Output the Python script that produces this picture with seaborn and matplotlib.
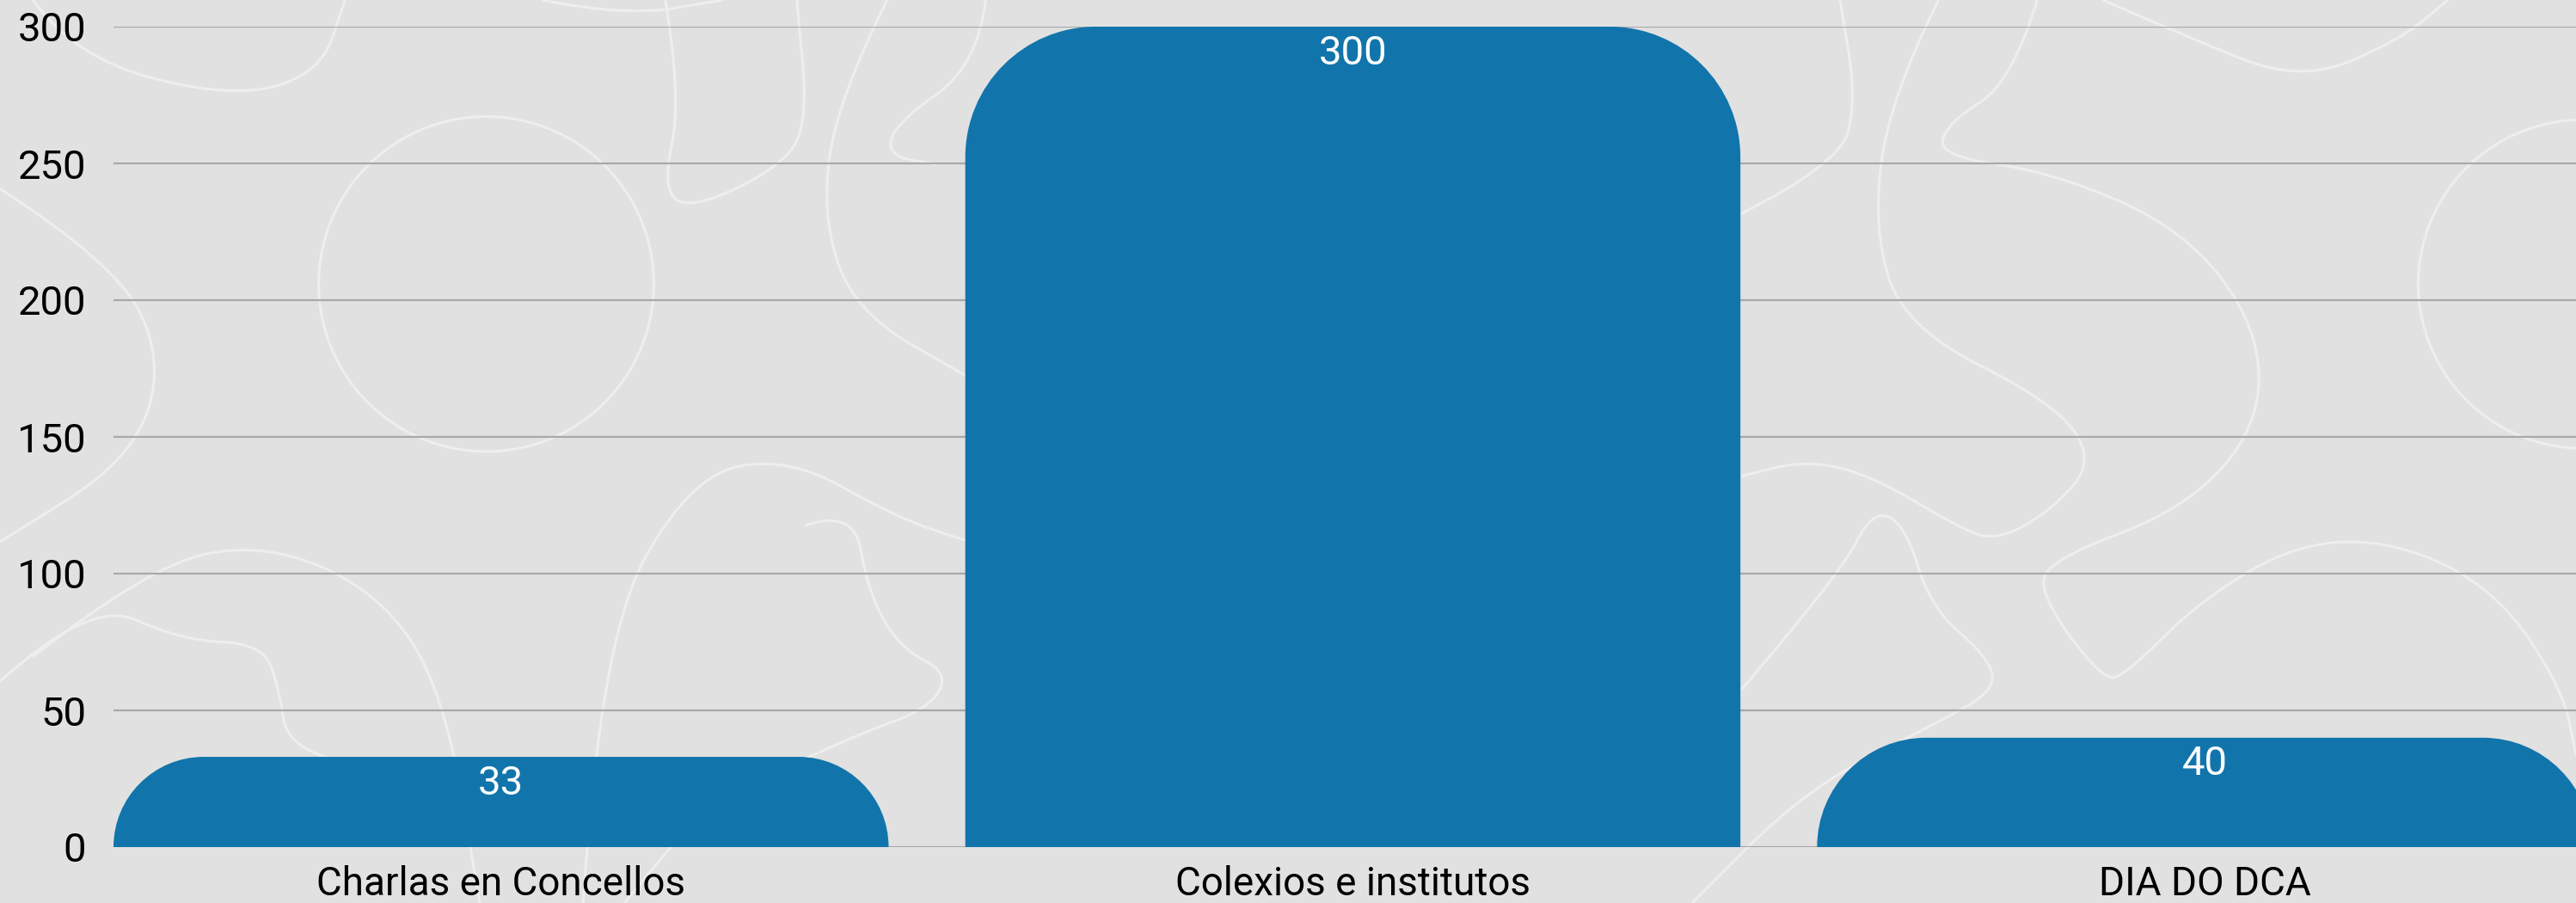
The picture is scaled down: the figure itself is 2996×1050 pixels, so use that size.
import numpy as np
import pandas as pd
import matplotlib
matplotlib.use("Agg")
import matplotlib.pyplot as plt
from matplotlib.path import Path
from matplotlib.patches import PathPatch, Circle
import seaborn as sns

categories = ["Charlas en Concellos", "Colexios e institutos", "DIA DO DCA"]
values = [33, 300, 40]
y_ticks = [0, 50, 100, 150, 200, 250, 300]

BAR_COLOR = "#1175ab"
BG = "#e1e1e1"
DECO = "#eeeeee"

sns.set_theme(style="white")
plt.rcParams["font.family"] = ["Roboto", "DejaVu Sans"]

W, H, DPI = 29.96, 10.5, 100
fig = plt.figure(figsize=(W, H), dpi=DPI, facecolor=BG)

# ---- faint decorative background (not data) ----
bg = fig.add_axes([0, 0, 1, 1], zorder=0)
bg.set_xlim(0, 1568); bg.set_ylim(550, 0); bg.axis("off")

def smooth(pts):
    pts = np.asarray(pts, float)
    verts = [pts[0]]; codes = [Path.MOVETO]
    for i in range(1, len(pts) - 1):
        mid = (pts[i] + pts[i + 1]) / 2
        verts += [pts[i], mid]; codes += [Path.CURVE3, Path.CURVE3]
    verts.append(pts[-1]); codes.append(Path.LINETO)
    return Path(verts, codes)

deco_curves = [
    [(20, 0), (45, 35), (140, 60), (195, 45), (210, 0)],
    [(0, 115), (70, 160), (100, 220), (80, 280), (0, 330)],
    [(20, 400), (90, 345), (160, 330), (230, 360), (270, 420), (292, 550)],
    [(0, 415), (55, 365), (110, 390), (160, 392), (170, 420), (175, 455), (230, 470), (275, 480)],
    [(355, 550), (365, 390), (420, 290), (480, 278), (545, 315), (590, 330)],
    [(405, 0), (415, 60), (403, 115), (420, 128), (475, 102), (492, 75), (485, 0)],
    [(490, 320), (520, 310), (528, 360), (548, 395), (578, 410), (565, 432), (520, 448), (430, 490), (380, 550)],
    [(600, 0), (595, 40), (545, 75), (540, 95), (570, 100)],
    [(540, 0), (510, 60), (500, 130), (520, 190), (590, 230)],
    [(1060, 130), (1120, 100), (1130, 60), (1120, 0)],
    [(1180, 0), (1150, 60), (1140, 140), (1160, 200), (1250, 245), (1275, 280), (1250, 310), (1215, 330),
     (1190, 320), (1140, 290), (1100, 280), (1060, 290)],
    [(1240, 0), (1225, 50), (1185, 75), (1180, 95), (1250, 105), (1330, 140), (1375, 200), (1375, 260),
     (1330, 310), (1250, 340), (1240, 360), (1280, 415), (1295, 410), (1340, 365), (1400, 330),
     (1460, 330), (1520, 360), (1560, 420), (1568, 460)],
    [(1280, 0), (1330, 22), (1400, 50), (1460, 25), (1490, 0)],
    [(1060, 420), (1120, 350), (1140, 310), (1160, 320), (1175, 370), (1210, 400), (1215, 420), (1180, 440),
     (1100, 480), (1030, 550)],
    [(330, 0), (380, 10), (440, 0)],
]
for c in deco_curves:
    bg.add_patch(PathPatch(smooth(c), fill=False, ec=DECO, lw=2.2))
for (cx, cy, r) in [(296, 173, 102), (1572, 173, 100)]:
    bg.add_patch(Circle((cx, cy), r, fill=False, ec=DECO, lw=2.2))

# ---- main chart ----
ax_left, ax_right = 132, 2996
ax_bottom, ax_top = 985, 31
ax = fig.add_axes([ax_left / 2996, 1 - ax_bottom / 1050,
                   (ax_right - ax_left) / 2996, (ax_bottom - ax_top) / 1050], zorder=1)
ax.set_facecolor("none")

df = pd.DataFrame({"cat": categories, "val": values})
sns.barplot(data=df, x="cat", y="val", color=BAR_COLOR, width=0.91, ax=ax, saturation=1)

ax.set_xlim(-0.455, 2.436)
ax.set_ylim(0, 300)
ax.set_yticks(y_ticks)
ax.set_xlabel("")
ax.set_ylabel("")
ax.yaxis.grid(True, color="#a9a9a9", lw=1.6)
ax.set_axisbelow(True)
for s in ax.spines.values():
    s.set_visible(False)
ax.tick_params(axis="y", length=0, pad=23, labelsize=34, labelcolor="black")
ax.tick_params(axis="x", length=0, pad=15, labelsize=33, labelcolor="black")

# rounded-top bars
ax_w_px = ax_right - ax_left
ax_h_px = ax_bottom - ax_top
px_x = ax_w_px / (2.436 + 0.455)
px_y = ax_h_px / 300.0
k = 0.5523
for p in list(ax.patches):
    x0 = p.get_x(); w = p.get_width(); h = p.get_height()
    x1 = x0 + w
    r_px = min(152, h * px_y)
    rx = r_px / px_x
    ry = r_px / px_y
    verts = [
        (x0, 0), (x0, h - ry),
        (x0, h - ry + k * ry), (x0 + rx - k * rx, h), (x0 + rx, h),
        (x1 - rx, h),
        (x1 - rx + k * rx, h), (x1, h - ry + k * ry), (x1, h - ry),
        (x1, 0), (x0, 0),
    ]
    codes = [Path.MOVETO, Path.LINETO,
             Path.CURVE4, Path.CURVE4, Path.CURVE4,
             Path.LINETO,
             Path.CURVE4, Path.CURVE4, Path.CURVE4,
             Path.LINETO, Path.CLOSEPOLY]
    ax.add_patch(PathPatch(Path(verts, codes), fc=BAR_COLOR, ec="none", zorder=2, clip_on=True))
    p.set_visible(False)
    ax.annotate(f"{int(round(h))}", (x0 + w / 2, h), xytext=(0, -22), textcoords="offset points",
                ha="center", va="center", color="white", fontsize=34, zorder=3)

fig.savefig("out.png", dpi=DPI, facecolor=BG)
